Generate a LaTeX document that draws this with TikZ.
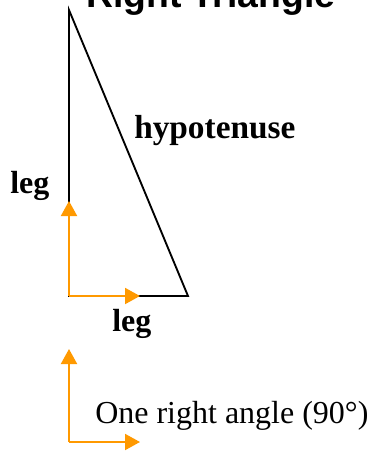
\documentclass[tikz,border=0pt]{standalone}
\usepackage{fontspec}
\setmainfont{Liberation Serif}
\newfontfamily\titlefont{Liberation Sans}
\usepackage{xcolor}
\usetikzlibrary{arrows.meta}
\definecolor{AngleOrange}{HTML}{FF9900}
\definecolor{EdgeBlack}{HTML}{000000}

\begin{document}
\begin{tikzpicture}[x=0.75pt, y=-0.75pt,
    lbl/.style={inner sep=0pt, anchor=base west, font=\fontsize{24}{28}\selectfont\bfseries},
    side/.style={draw=EdgeBlack, line width=1.4pt, line join=miter},
    rightarrow/.style={-{Triangle[length=11.25pt, width=12pt]}, AngleOrange, line width=1.5pt}]
            \useasboundingbox (0,0) rectangle (372,451);
            % title sits half off the page
            \node[inner sep=0pt, anchor=base west, font=\titlefont\fontsize{28}{32}\selectfont\bfseries] (title) at (86,7) {Right Triangle};

            % the triangle
            \coordinate (top) at (69,10);
            \coordinate (corner) at (69,296);
            \coordinate (right) at (188,296);
            \draw[side] (top) -- (corner) -- (right) -- cycle;

            \node[lbl] (legA) at (10,193) {leg};
            \node[lbl, font=\fontsize{25}{29}\selectfont\bfseries] (hyp) at (134,138) {hypotenuse};
            \node[lbl] (legB) at (112,331) {leg};

            % right angle marks
            \coordinate (upTip) at (69,201);
            \coordinate (rightTip) at (140,296);
            \draw[rightarrow] (corner) -- (upTip);
            \draw[rightarrow] (corner) -- (rightTip);

            % key
            \coordinate (keyCorner) at (69,442);
            \coordinate (keyUp) at (69,349);
            \coordinate (keyRight) at (140,442);
            \draw[rightarrow] (keyCorner) -- (keyUp);
            \draw[rightarrow] (keyCorner) -- (keyRight);
            \node[inner sep=0pt, anchor=base west, font=\fontsize{24}{28}\selectfont] (key) at (95,423) {One right angle (90°)};
\end{tikzpicture}
\end{document}
